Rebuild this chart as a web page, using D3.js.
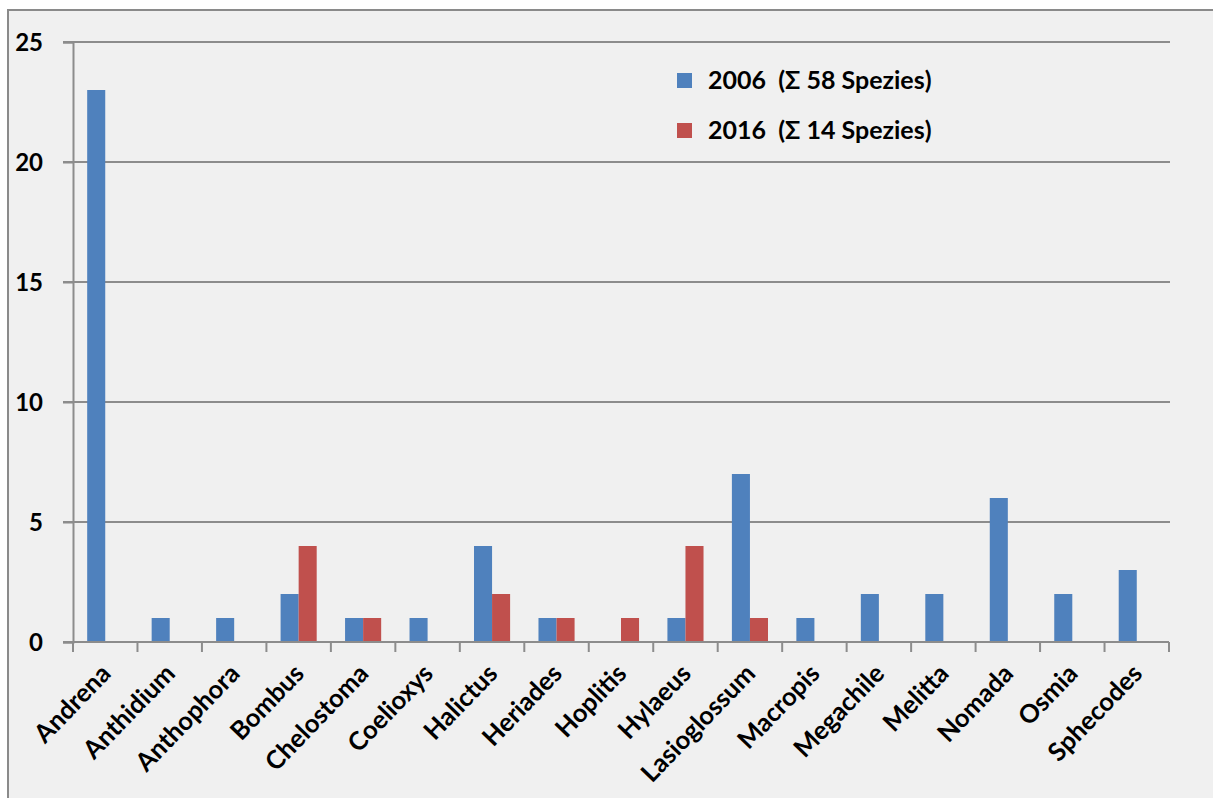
<!DOCTYPE html>
<html>
<head>
<meta charset="utf-8">
<script src="https://cdn.jsdelivr.net/npm/d3@7"></script>
<style>
  body { margin: 0; background: #fff; }
  svg text { font-family: Lato, "Open Sans", sans-serif; font-weight: bold; fill: #000; }
</style>
</head>
<body>
<div class="chart"></div>
<script>
// genera (x axis)
var genera = ["Andrena", "Anthidium", "Anthophora", "Bombus", "Chelostoma", "Coelioxys",
    "Halictus", "Heriades", "Hoplitis", "Hylaeus", "Lasioglossum", "Macropis",
    "Megachile", "Melitta", "Nomada", "Osmia", "Sphecodes"];
// species counts per genus
var count2006 = [23, 1, 1, 2, 1, 1, 4, 1, 0, 1, 7, 1, 2, 2, 6, 2, 3];
var count2016 = [0, 0, 0, 4, 1, 0, 2, 1, 1, 4, 1, 0, 0, 0, 0, 0, 0];
var seriesNames = ["2006  (\u03A3 58 Spezies)", "2016  (\u03A3 14 Spezies)"];
var yTicks = [0, 5, 10, 15, 20, 25];

drawChart();

function drawChart() {
    var width = 1213, height = 798;
    var colors = ["#4f81bd", "#c0504d"];
    var gridCol = "#8c8c8c";

    var svg = d3.select(".chart").append("svg")
        .attr("width", width)
        .attr("height", height);

    // chart area background + frame
    svg.append("rect")
        .attr("x", 8).attr("y", 10)
        .attr("width", width + 10).attr("height", height + 10)
        .attr("fill", "#f0f0f0")
        .attr("stroke", "#8a8a8a")
        .attr("stroke-width", 2);

    var left = 73, right = 1169, plotTop = 42, bottom = 642;

    var x = d3.scaleBand().domain(genera).range([left, right]).padding(0);
    var y = d3.scaleLinear().domain([0, 25]).range([bottom, plotTop]);

    var bw = x.bandwidth() * 0.28;
    var off = (x.bandwidth() - 2 * bw) / 2;

    // gridlines
    svg.append("g").selectAll("line")
        .data(yTicks.filter(function (d) { return d > 0; }))
        .enter().append("line")
        .attr("x1", left - 10).attr("x2", right + 1)
        .attr("y1", function (d) { return y(d); })
        .attr("y2", function (d) { return y(d); })
        .attr("stroke", gridCol).attr("stroke-width", 2);

    // bars
    var rows = genera.map(function (g, i) {
        return { genus: g, vals: [count2006[i], count2016[i]] };
    });
    var groups = svg.append("g").selectAll("g")
        .data(rows)
        .enter().append("g")
        .attr("transform", function (d) { return "translate(" + x(d.genus) + ",0)"; });

    groups.selectAll("rect")
        .data(function (d) { return d.vals; })
        .enter().append("rect")
        .attr("x", function (d, j) { return off + j * bw; })
        .attr("y", function (d) { return y(d); })
        .attr("width", bw)
        .attr("height", function (d) { return y(0) - y(d); })
        .attr("fill", function (d, j) { return colors[j]; });

    // y axis
    var yAxis = svg.append("g")
        .attr("transform", "translate(" + left + ",0)")
        .call(d3.axisLeft(y).tickValues(yTicks).tickSize(10).tickPadding(20));
    yAxis.select(".domain").attr("stroke", gridCol).attr("stroke-width", 2);
    yAxis.selectAll(".tick line").attr("stroke", gridCol).attr("stroke-width", 2);
    yAxis.selectAll(".tick text")
        .style("font-size", "24px")
        .attr("dy", "0.35em");

    // x axis
    var xAxis = svg.append("g")
        .attr("transform", "translate(0," + bottom + ")")
        .call(d3.axisBottom(x).tickSize(0).tickFormat(""));
    xAxis.select(".domain").attr("stroke", gridCol).attr("stroke-width", 2)
        .attr("d", "M" + (left - 10) + ",0H" + right);

    var bounds = genera.map(function (g) { return x(g); }).concat([right]);
    xAxis.append("g").selectAll("line")
        .data(bounds)
        .enter().append("line")
        .attr("x1", function (d) { return d; })
        .attr("x2", function (d) { return d; })
        .attr("y1", 0).attr("y2", 10)
        .attr("stroke", gridCol).attr("stroke-width", 2);

    svg.append("g").selectAll("text")
        .data(genera)
        .enter().append("text")
        .attr("text-anchor", "end")
        .attr("transform", function (d) {
            return "translate(" + (x(d) + x.bandwidth() / 2 + 7) + "," + (bottom + 33) + ") rotate(-46)";
        })
        .style("font-size", "25.5px")
        .text(function (d) { return d; });

    // legend
    var legend = svg.append("g").selectAll("g")
        .data(seriesNames)
        .enter().append("g")
        .attr("transform", function (d, i) { return "translate(677," + (73 + i * 50) + ")"; });
    legend.append("rect")
        .attr("width", 15).attr("height", 15)
        .attr("fill", function (d, i) { return colors[i]; });
    legend.append("text")
        .attr("x", 31).attr("y", 16)
        .style("font-size", "25px")
        .attr("xml:space", "preserve")
        .text(function (d) { return d; });
}
</script>
</body>
</html>
